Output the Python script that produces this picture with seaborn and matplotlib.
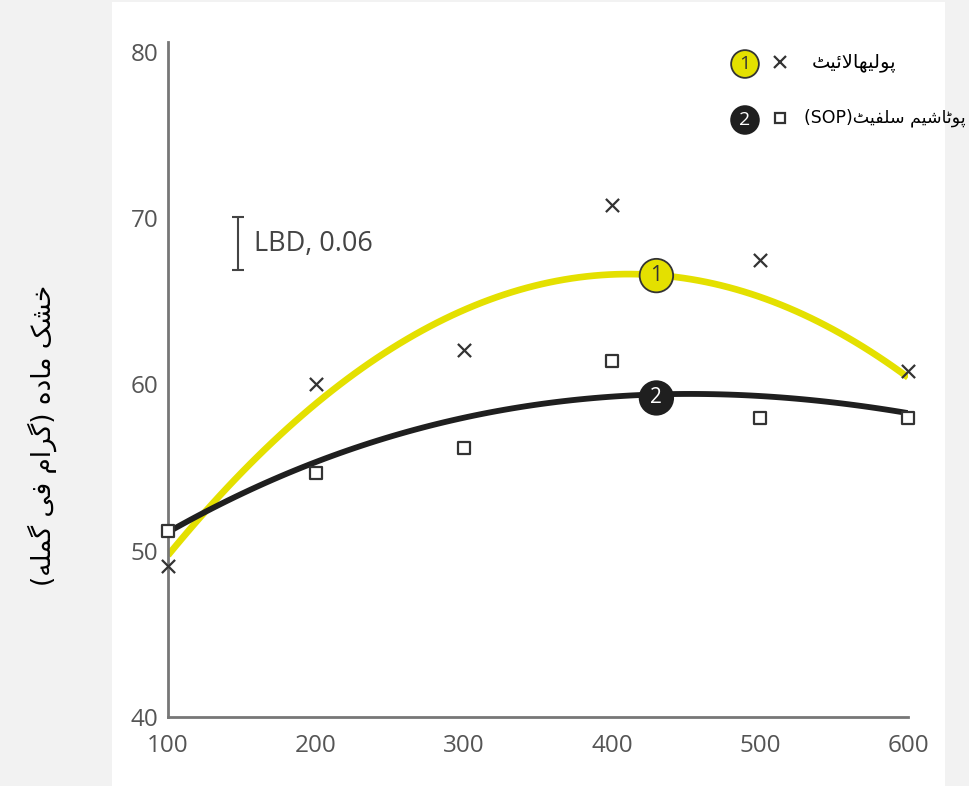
import re
import numpy as np
import matplotlib
matplotlib.use("Agg")
import matplotlib.pyplot as plt
from matplotlib.lines import Line2D
from matplotlib.patches import Rectangle
import seaborn as sns

# values
doses = [100, 200, 300, 400, 500, 600]
polyhalite = [49.1, 60.0, 62.1, 70.8, 67.5, 60.8]
sop = [51.2, 54.7, 56.2, 61.4, 58.0, 58.0]

# fitted response curves, read every 50 units
curve_x = [100, 150, 200, 250, 300, 350, 400, 450, 500, 550, 600]
polyhalite_curve = [49.6, 55.0, 58.9, 61.9, 64.2, 66.1, 66.85, 66.6, 65.1, 63.0, 60.6]
sop_curve = [51.2, 53.3, 55.3, 56.9, 58.1, 58.8, 59.25, 59.4, 59.3, 58.9, 58.3]

x_ticks = [100, 200, 300, 400, 500, 600]
y_ticks = [40, 50, 60, 70, 80]

lbd_x = 147
lbd_low, lbd_high = 66.9, 70.05
lbd_text = "LBD, 0.06"

ylabel = "خشک مادہ (گرام فی گملہ)"
label_1 = "پولیہالائیٹ"
label_2 = "پوٹاشیم سلفیٹ(SOP)"

YELLOW = "#e4e000"
DARK = "#1f1f1f"
GREY = "#555555"

# matplotlib has no arabic shaping, so map letters to presentation forms
FORMS = {  # isolated, final, initial, medial
    'ا': ('\uFE8D', '\uFE8E', None, None),
    'د': ('\uFEA9', '\uFEAA', None, None),
    'ر': ('\uFEAD', '\uFEAE', None, None),
    'و': ('\uFEED', '\uFEEE', None, None),
    'پ': ('\uFB56', '\uFB57', '\uFB58', '\uFB59'),
    'ٹ': ('\uFB66', '\uFB67', '\uFB68', '\uFB69'),
    'خ': ('\uFEA5', '\uFEA6', '\uFEA7', '\uFEA8'),
    'س': ('\uFEB1', '\uFEB2', '\uFEB3', '\uFEB4'),
    'ش': ('\uFEB5', '\uFEB6', '\uFEB7', '\uFEB8'),
    'ف': ('\uFED1', '\uFED2', '\uFED3', '\uFED4'),
    'ک': ('\uFB8E', '\uFB8F', '\uFB90', '\uFB91'),
    'گ': ('\uFB92', '\uFB93', '\uFB94', '\uFB95'),
    'ل': ('\uFEDD', '\uFEDE', '\uFEDF', '\uFEE0'),
    'م': ('\uFEE1', '\uFEE2', '\uFEE3', '\uFEE4'),
    # DejaVu has no heh-goal forms, the heh forms look the same in naskh
    'ہ': ('\uFEE9', '\uFEEA', '\uFEEB', '\uFEEC'),
    'ی': ('\uFBFC', '\uFBFD', '\uFBFE', '\uFBFF'),
    'ئ': ('\uFE89', '\uFE8A', '\uFE8B', '\uFE8C'),
}
LAM_ALEF = ('\uFEFB', '\uFEFC')
MIRROR = {'(': ')', ')': '('}


def dual(c):
    return c in FORMS and FORMS[c][2] is not None


def shape(text):
    out = []
    i = 0
    while i < len(text):
        c = text[i]
        if c not in FORMS:
            out.append(c)
            i += 1
            continue
        join_prev = i > 0 and dual(text[i - 1])
        if c == 'ل' and i + 1 < len(text) and text[i + 1] == 'ا':
            out.append(LAM_ALEF[1] if join_prev else LAM_ALEF[0])
            i += 2
            continue
        join_next = dual(c) and i + 1 < len(text) and text[i + 1] in FORMS
        iso, fin, ini, med = FORMS[c]
        if join_prev and join_next:
            out.append(med)
        elif join_prev:
            out.append(fin)
        elif join_next:
            out.append(ini)
        else:
            out.append(iso)
        i += 1
    return ''.join(out)


def rtl(text):
    runs = re.findall(r'[A-Za-z0-9]+|[^A-Za-z0-9]+', shape(text))
    vis = []
    for run in reversed(runs):
        if re.match(r'[A-Za-z0-9]', run):
            vis.append(run)
        else:
            vis.append(''.join(MIRROR.get(ch, ch) for ch in reversed(run)))
    return ''.join(vis)


sns.set_theme(style="white")
plt.rcParams['font.family'] = ['Open Sans', 'DejaVu Sans']
URDU = ['DejaVu Sans']

W, H = 969, 786
fig = plt.figure(figsize=(W / 100, H / 100), dpi=100, facecolor='#f2f2f2')
fig.add_artist(Rectangle((112 / W, 0), (945 - 112) / W, 1 - 2 / H,
                         transform=fig.transFigure, facecolor='white',
                         edgecolor='none', zorder=0))

ax = fig.add_axes([168 / W, 69 / H, 740 / W, 675 / H])
ax.patch.set_alpha(0)

sns.regplot(x=curve_x, y=polyhalite_curve, order=3, ci=None, scatter=False, ax=ax,
            line_kws=dict(color=YELLOW, lw=4.8, solid_capstyle='butt', zorder=2))
sns.regplot(x=curve_x, y=sop_curve, order=3, ci=None, scatter=False, ax=ax,
            line_kws=dict(color=DARK, lw=4.2, solid_capstyle='butt', zorder=2))

sns.scatterplot(x=doses, y=polyhalite, marker='x', s=90, color='#333333',
                linewidth=1.6, ax=ax, zorder=4, clip_on=False)
sns.scatterplot(x=doses, y=sop, marker='s', s=75, facecolor='white',
                edgecolor='#333333', linewidth=1.6, ax=ax, zorder=4, clip_on=False)

# numbered badges on the curves
badge_x = 430
ax.text(badge_x, np.interp(badge_x, curve_x, polyhalite_curve), '1', ha='center',
        va='center_baseline', fontsize=15, color='#333333', zorder=5,
        bbox=dict(boxstyle='circle,pad=0.3', fc=YELLOW, ec='#333333', lw=1.3))
ax.text(badge_x, np.interp(badge_x, curve_x, sop_curve), '2', ha='center',
        va='center_baseline', fontsize=15, color='white', zorder=5,
        bbox=dict(boxstyle='circle,pad=0.3', fc=DARK, ec=DARK, lw=1.3))

# LBD bar
ax.errorbar([lbd_x], [(lbd_low + lbd_high) / 2], yerr=[(lbd_high - lbd_low) / 2],
            color='#444444', lw=1.5, capsize=4, capthick=1.5, zorder=3)
ax.text(lbd_x + 11, (lbd_low + lbd_high) / 2, lbd_text, ha='left', va='center',
        fontsize=19.5, color='#444444')

ax.set_xlim(100, 600)
ax.set_ylim(40, 80.6)
ax.set_xticks(x_ticks)
ax.set_yticks(y_ticks)
ax.tick_params(axis='both', length=0, labelsize=17.5, labelcolor=GREY)
ax.tick_params(axis='x', pad=12)
ax.tick_params(axis='y', pad=7)
sns.despine(ax=ax)
for side in ['left', 'bottom']:
    ax.spines[side].set_color('#777777')
    ax.spines[side].set_linewidth(2.0)
ax.grid(False)

fig.text(42 / W, 1 - 435 / H, rtl(ylabel), rotation=90, ha='center', va='center',
         fontsize=19, family=URDU, color='black')


# legend, drawn by hand
def fx(px):
    return px / W


def fy(py):
    return 1 - py / H


fig.text(fx(745), fy(62), '1', ha='center', va='center_baseline', fontsize=14,
         color='#333333',
         bbox=dict(boxstyle='circle,pad=0.25', fc=YELLOW, ec='#333333', lw=1.3))
fig.text(fx(745), fy(118), '2', ha='center', va='center_baseline', fontsize=14,
         color='white', bbox=dict(boxstyle='circle,pad=0.25', fc=DARK, ec=DARK, lw=1.3))
fig.add_artist(Line2D([fx(780)], [fy(62)], marker='x', ms=8, mew=1.6, color='#333333',
                      transform=fig.transFigure))
fig.add_artist(Line2D([fx(780)], [fy(118)], marker='s', ms=7, mew=1.6, mfc='white',
                      mec='#333333', transform=fig.transFigure))
fig.text(fx(812), fy(62), rtl(label_1), ha='left', va='center', fontsize=14,
         family=URDU, color='black')
fig.text(fx(966), fy(118), rtl(label_2), ha='right', va='center', fontsize=12.5,
         family=URDU, color='black')

fig.savefig('out.png', dpi=100, facecolor=fig.get_facecolor())
